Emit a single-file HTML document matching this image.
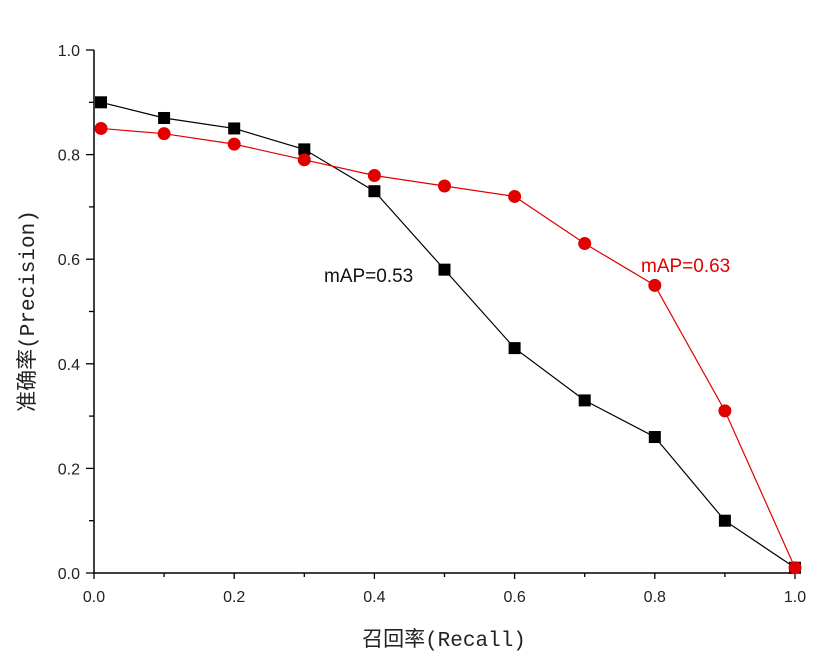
<!DOCTYPE html>
<html><head><meta charset="utf-8"><style>
body{margin:0;background:#fff;}
svg{display:block;font-family:"Liberation Sans",sans-serif;}
</style></head><body>
<svg id="chart" width="824" height="660"></svg>
<script>
const xTicks=[0,0.2,0.4,0.6,0.8,1.0];
const yTicks=[0,0.2,0.4,0.6,0.8,1.0];
const xTickLabels=["0.0","0.2","0.4","0.6","0.8","1.0"];
const yTickLabels=["0.0","0.2","0.4","0.6","0.8","1.0"];
const blackRecall=[0.01,0.1,0.2,0.3,0.4,0.5,0.6,0.7,0.8,0.9,1.0];
const blackPrecision=[0.90,0.87,0.85,0.81,0.73,0.58,0.43,0.33,0.26,0.10,0.01];
const redRecall=[0.01,0.1,0.2,0.3,0.4,0.5,0.6,0.7,0.8,0.9,1.0];
const redPrecision=[0.85,0.84,0.82,0.79,0.76,0.74,0.72,0.63,0.55,0.31,0.01];

const NS="http://www.w3.org/2000/svg";
const svg=document.getElementById('chart');
const X0=94,X1=795,Y0=573,Y1=50;
const sx=v=>X0+(X1-X0)*v;
const sy=v=>Y0-(Y0-Y1)*v;
function el(t,a,p){const e=document.createElementNS(NS,t);for(const k in a)e.setAttribute(k,a[k]);(p||svg).appendChild(e);return e;}

const axes=el('g',{});


let a=el('line',{x1:X0,y1:Y0,x2:X1,y2:Y0,stroke:'#000','stroke-width':1.5},axes);


a=el('line',{x1:X0,y1:Y0,x2:X0,y2:Y1,stroke:'#000','stroke-width':1.5},axes);


for(let i=0;i<=10;i++){
  const v=i/10,maj=i%2==0;
  el('line',{x1:sx(v),y1:Y0,x2:sx(v),y2:Y0+(maj?6:4),stroke:'#000','stroke-width':1.3},axes);
  el('line',{x1:X0,y1:sy(v),x2:X0-(maj?8:5),y2:sy(v),stroke:'#000','stroke-width':1.3},axes);
}
xTicks.forEach((v,i)=>{const t=el('text',{x:sx(v),y:Y0+29,'text-anchor':'middle','font-size':16,fill:'#222'},axes);t.textContent=xTickLabels[i];

});
yTicks.forEach((v,i)=>{const t=el('text',{x:X0-14,y:sy(v)+6,'text-anchor':'end','font-size':16,fill:'#222'},axes);t.textContent=yTickLabels[i];

});

let t=el('text',{x:444,y:646,'text-anchor':'middle','font-size':21,fill:'#222','font-family':'"Liberation Mono","Noto Sans CJK SC",monospace'});
t.textContent='召回率(Recall)';


t=el('text',{x:0,y:0,'text-anchor':'middle','font-size':21,fill:'#222','font-family':'"Liberation Mono","Noto Sans CJK SC",monospace',transform:'translate(34,311) rotate(-90)'});
t.textContent='准确率(Precision)';



function series(xs,ys,color,name,shape){
  const g=el('g',{});
  
  
  el('polyline',{points:xs.map((x,i)=>sx(x)+','+sy(ys[i])).join(' '),fill:'none',stroke:color,'stroke-width':1.2},g);
  xs.forEach((x,i)=>{
    let m;
    if(shape==='square')m=el('rect',{x:sx(x)-6,y:sy(ys[i])-6,width:12,height:12,fill:'#000'},g);
    else m=el('circle',{cx:sx(x),cy:sy(ys[i]),r:6.5,fill:'#e00000'},g);
    
    
  });
}
series(blackRecall,blackPrecision,'#000','black-series','square');
series(redRecall,redPrecision,'#e00000','red-series','circle');

t=el('text',{x:324,y:282,'font-size':19,fill:'#111'});
t.textContent='mAP=0.53';


t=el('text',{x:641,y:272,'font-size':19,fill:'#e00000'});
t.textContent='mAP=0.63';


</script>
</body></html>
